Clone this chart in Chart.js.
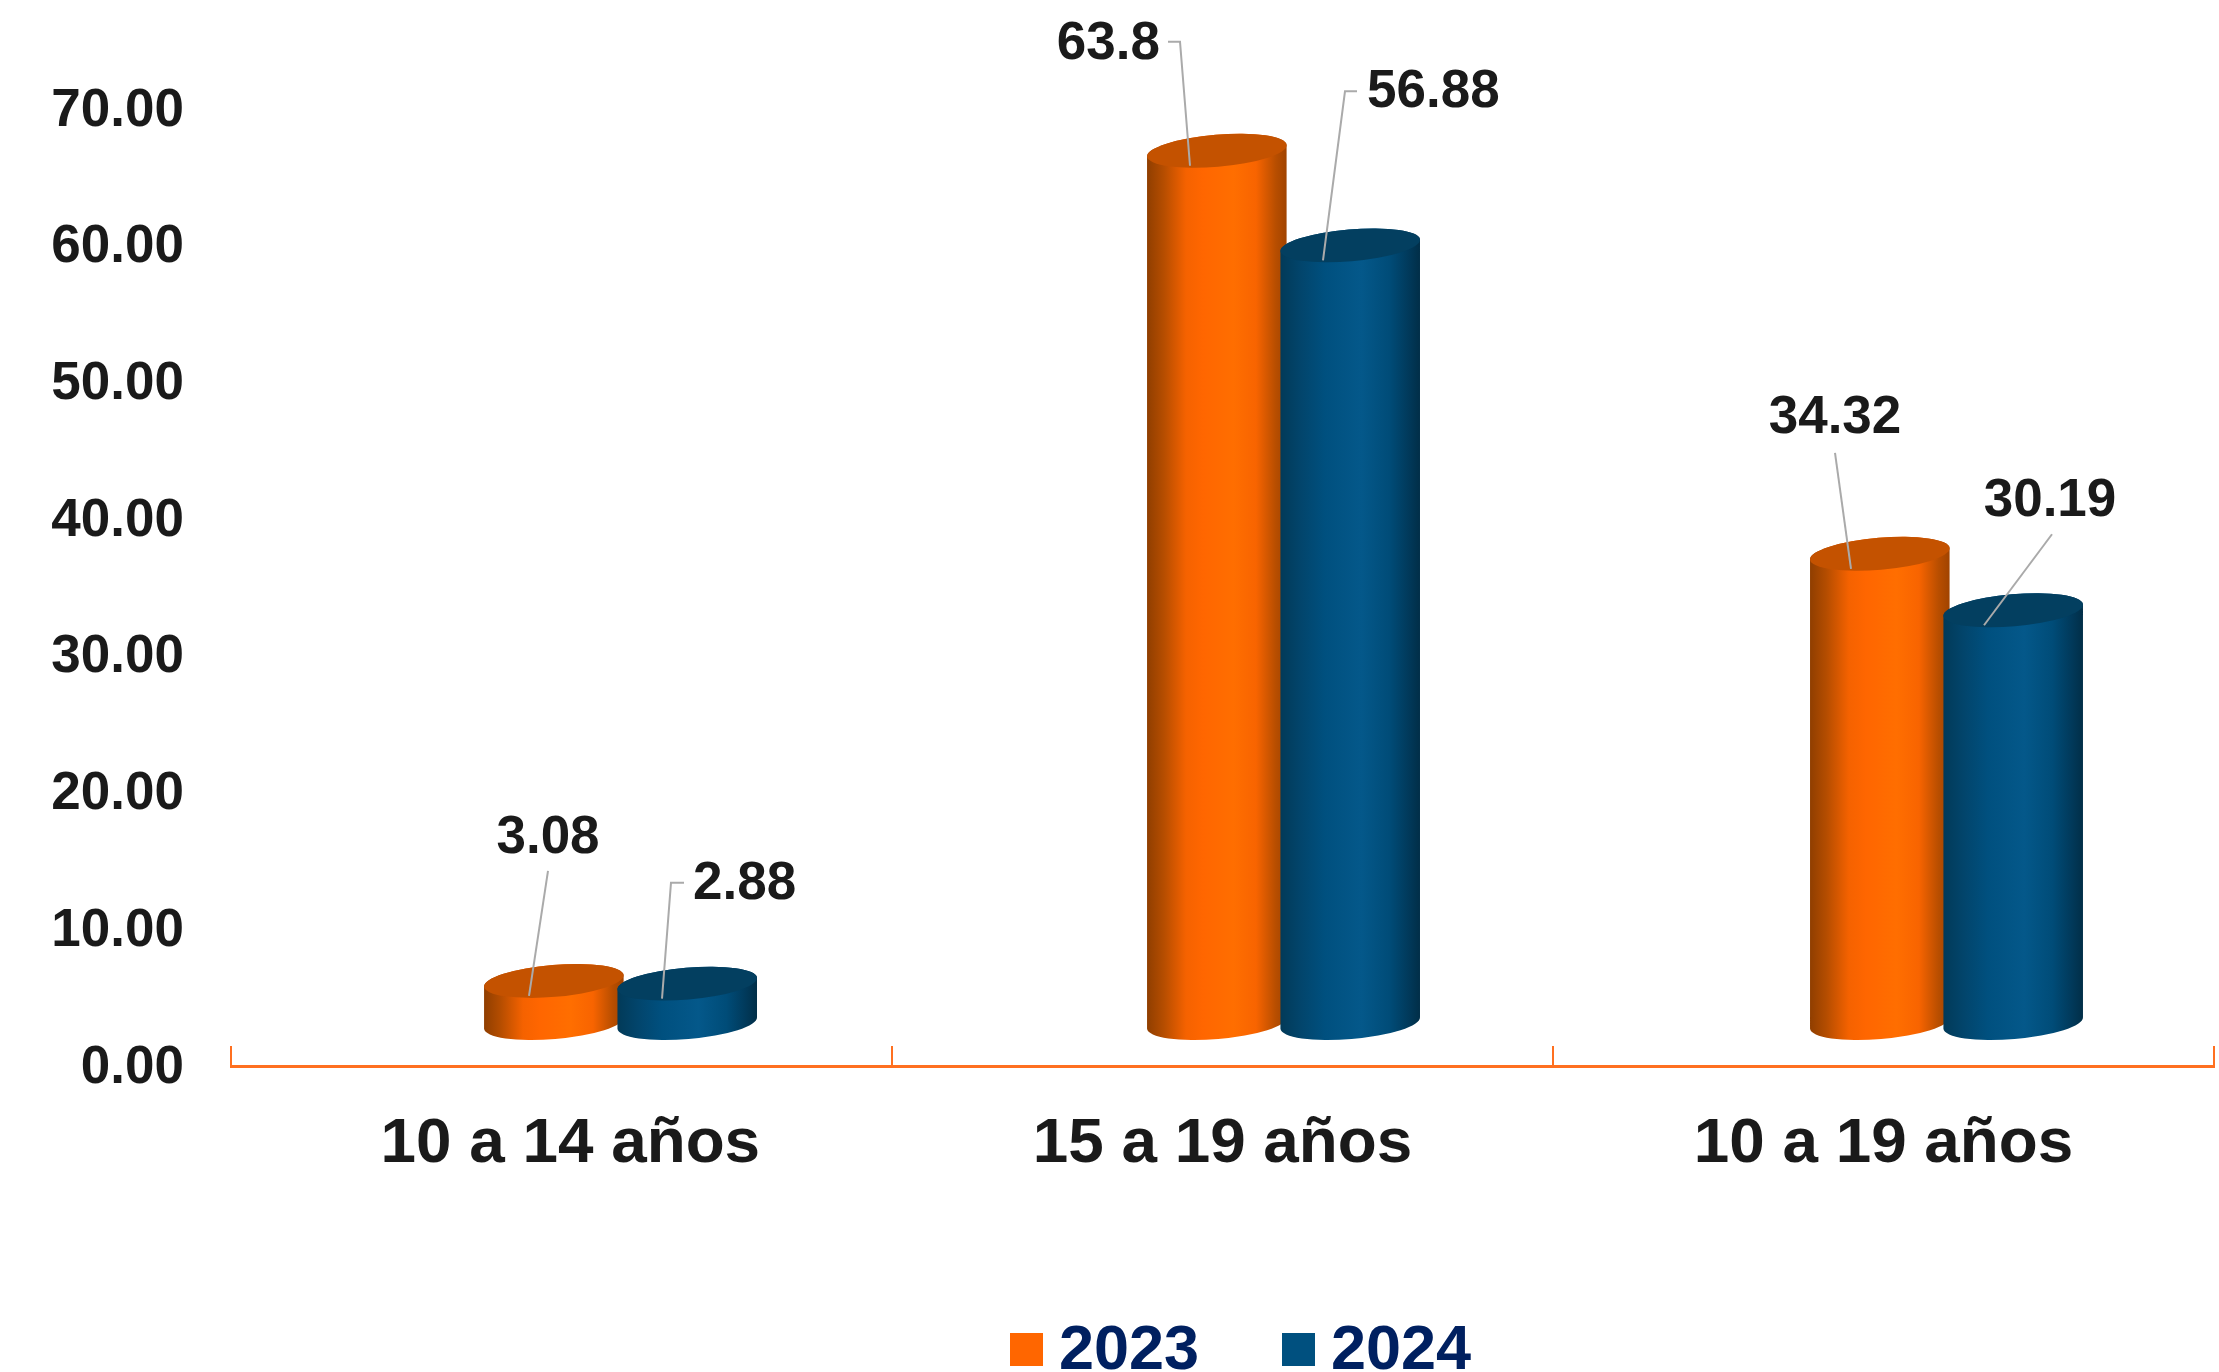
<!DOCTYPE html>
<html lang="es">
<head>
<meta charset="utf-8">
<title>Tasa por grupo de edad</title>
<style>
  html, body { margin: 0; padding: 0; background: #fff; }
  canvas { display: block; }
</style>
<script src="https://cdn.jsdelivr.net/npm/chart.js@4"></script>
</head>
<body>
<canvas id="grafico" width="2219" height="1372"></canvas>
<script>
// datos
const categories = ['10 a 14 años', '15 a 19 años', '10 a 19 años'];
const seriesNames = ['2023', '2024'];
const values2023 = [3.08, 63.8, 34.32];
const values2024 = [2.88, 56.88, 30.19];
const yTicks = [0, 10, 20, 30, 40, 50, 60, 70];

const FONT = '"Liberation Sans", Arial, sans-serif';
const TEXT_COLOR = '#1a1a1a';
const AXIS_COLOR = '#ff7020';

// colores del cilindro por serie
const cylinderStyles = [
  {
    top: '#c45200',
    stops: [[0, '#8f3e00'], [0.12, '#b54d00'], [0.28, '#f56200'], [0.4, '#ff6600'], [0.62, '#ff6e00'], [0.78, '#f86400'], [0.92, '#b84e00'], [1, '#a04300']]
  },
  {
    top: '#033f60',
    stops: [[0, '#023a58'], [0.15, '#02456c'], [0.32, '#00507f'], [0.58, '#04588a'], [0.78, '#004c78'], [0.92, '#01395a'], [1, '#012e47']]
  }
];

// posicion de etiquetas y lineas guia, relativa al punto de anclaje en la tapa
const leaderLayout = [
  [
    { line: [[19, -125]], label: [19, -157.5], align: 'center' },
    { line: [[-10, -124], [-22, -124]], label: [-30, -121], align: 'right' },
    { line: [[-16, -116]], label: [-16, -150], align: 'center' }
  ],
  [
    { line: [[9, -116], [22, -116]], label: [31, -114.5], align: 'left' },
    { line: [[22, -169], [34, -169]], label: [44, -167.5], align: 'left' },
    { line: [[68, -91]], label: [66, -124], align: 'center' }
  ]
];

// parametros de la perspectiva 3D
const DEPTH_X = 59;
const DEPTH_Y = -43;
const PERSPECTIVE_X = 0.003; // el desplazamiento crece hacia la derecha
const WIDTH_FACTOR = 1.053;
const ELLIPSE_RY = 16;
const ELLIPSE_TILT = -4.8 * Math.PI / 180;
const ANCHOR_DX = -25;
const ANCHOR_DY = 15;

function drawCylinder(ctx, bar, style) {
  const cx = bar.x + DEPTH_X + (bar.x - 550) * PERSPECTIVE_X;
  const topY = bar.y + DEPTH_Y;
  const baseY = bar.base + DEPTH_Y;
  const rx = bar.width * WIDTH_FACTOR / 2;

  const gradient = ctx.createLinearGradient(cx - rx, 0, cx + rx, 0);
  style.stops.forEach(s => gradient.addColorStop(s[0], s[1]));

  // cuerpo
  ctx.beginPath();
  ctx.ellipse(cx, baseY, rx, ELLIPSE_RY, ELLIPSE_TILT, Math.PI, 0, true);
  ctx.ellipse(cx, topY, rx, ELLIPSE_RY, ELLIPSE_TILT, 0, Math.PI, true);
  ctx.closePath();
  ctx.fillStyle = gradient;
  ctx.fill();

  // tapa
  ctx.beginPath();
  ctx.ellipse(cx, topY, rx, ELLIPSE_RY, ELLIPSE_TILT, 0, Math.PI * 2);
  ctx.fillStyle = style.top;
  ctx.fill();
}

function drawLeader(ctx, bar, value, layout) {
  const ax = bar.x + DEPTH_X + ANCHOR_DX;
  const ay = bar.y + DEPTH_Y + ANCHOR_DY;

  ctx.beginPath();
  ctx.moveTo(ax, ay);
  layout.line.forEach(p => ctx.lineTo(ax + p[0], ay + p[1]));
  ctx.strokeStyle = '#aaaaaa';
  ctx.lineWidth = 2;
  ctx.stroke();

  ctx.font = 'bold 53px ' + FONT;
  ctx.fillStyle = TEXT_COLOR;
  ctx.textAlign = layout.align;
  ctx.textBaseline = 'middle';
  ctx.fillText(String(value), ax + layout.label[0], ay + layout.label[1]);
}

const cylinderPlugin = {
  id: 'cylinders',
  beforeDatasetsDraw(chart) {
    const ctx = chart.ctx;
    ctx.save();
    const metas = chart.data.datasets.map((d, i) => chart.getDatasetMeta(i));
    categories.forEach((c, ci) => {
      metas.forEach((meta, si) => drawCylinder(ctx, meta.data[ci], cylinderStyles[si]));
    });
    metas.forEach((meta, si) => {
      meta.data.forEach((bar, ci) => {
        drawLeader(ctx, bar, chart.data.datasets[si].data[ci], leaderLayout[si][ci]);
      });
    });
    ctx.restore();
    return false; // las barras planas no se dibujan
  }
};

// leyenda propia: el hueco entre cuadro y texto es menor que el de Chart.js
const legendPlugin = {
  id: 'legendaInferior',
  afterDraw(chart) {
    const ctx = chart.ctx;
    const slots = [1010, 1282];
    ctx.save();
    ctx.font = 'bold 63px ' + FONT;
    ctx.textAlign = 'left';
    ctx.textBaseline = 'alphabetic';
    chart.data.datasets.forEach((d, i) => {
      ctx.fillStyle = d.backgroundColor;
      ctx.fillRect(slots[i], 1333, 33, 33);
      ctx.fillStyle = '#002060';
      ctx.fillText(d.label, slots[i] + 49, 1369);
    });
    ctx.restore();
  }
};

new Chart(document.getElementById('grafico'), {
  type: 'bar',
  data: {
    labels: categories,
    datasets: [
      { label: seriesNames[0], data: values2023, backgroundColor: '#ff6600' },
      { label: seriesNames[1], data: values2024, backgroundColor: '#00507f' }
    ]
  },
  options: {
    responsive: false,
    devicePixelRatio: 1,
    animation: false,
    categoryPercentage: 0.4024,
    barPercentage: 1,
    layout: { padding: { top: 109, right: 5, left: 0, bottom: 0 } },
    plugins: {
      legend: { display: false },
      tooltip: { enabled: false }
    },
    scales: {
      x: {
        afterFit(scale) { scale.height = 306; },
        border: { color: AXIS_COLOR, width: 3 },
        grid: {
          color: AXIS_COLOR,
          lineWidth: 2,
          drawOnChartArea: false,
          drawTicks: true,
          tickLength: -20
        },
        ticks: {
          maxRotation: 0,
          padding: 60,
          color: TEXT_COLOR,
          font: { family: FONT, size: 63.8, weight: 'bold' },
          // la primera etiqueta va algo corrida a la derecha en el original
          callback(v, i) { return (i === 0 ? '\u00a0' : '') + categories[i]; }
        }
      },
      y: {
        min: 0,
        max: 70,
        afterFit(scale) { scale.width = 231; },
        afterBuildTicks(scale) { scale.ticks = yTicks.map(v => ({ value: v })); },
        border: { display: false },
        grid: { display: false, drawTicks: false },
        ticks: {
          padding: 47,
          labelOffset: 2,
          color: TEXT_COLOR,
          font: { family: FONT, size: 53, weight: 'bold' },
          callback: v => v.toFixed(2)
        }
      }
    }
  },
  plugins: [cylinderPlugin, legendPlugin]
});
</script>
</body>
</html>
